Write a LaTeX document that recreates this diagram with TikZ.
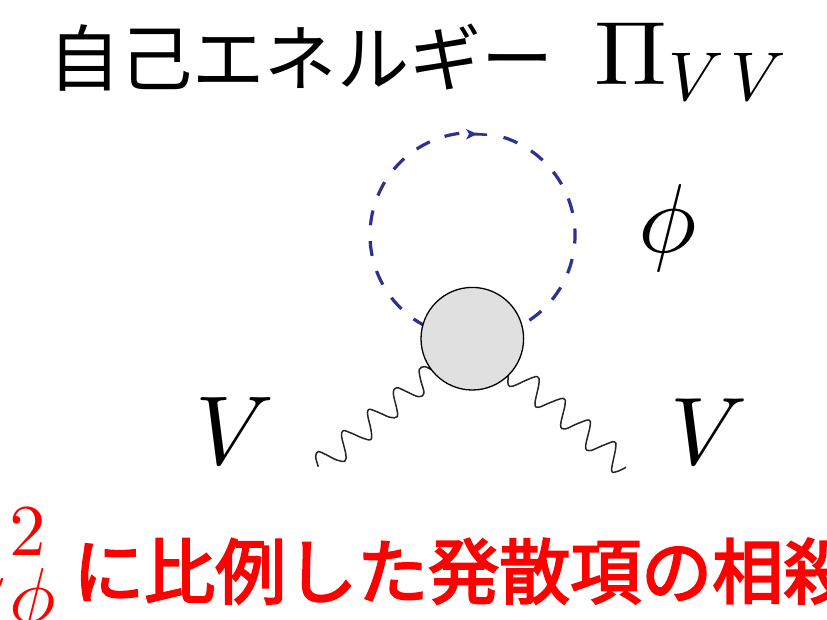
\documentclass[tikz,border=0pt]{standalone}
\usepackage{fontspec}
\usepackage{graphicx}
\setmainfont{Noto Sans CJK JP}
\newfontfamily\redfont[FakeBold=3]{Noto Sans CJK JP}
\usetikzlibrary{calc}
\definecolor{loopblue}{RGB}{46,49,146}
\newcommand{\scaledmath}[2]{\scalebox{#1}{$#2$}}
\tikzset{
  title/.style={inner sep=0pt,anchor=base west,font=\fontsize{72.2}{72}\selectfont},
  mathlabel/.style={inner sep=0pt,anchor=base west},
  redmath/.style={inner sep=0pt,anchor=base,text=red},
  redtext/.style={inner sep=0pt,anchor=base west,text=red,font=\fontsize{71}{71}\selectfont\redfont},
  wave/.style={draw=black!85,line width=1.5pt,line join=round},
  loop/.style={draw=loopblue,line width=3.2pt,dash pattern=on 15pt off 15.75pt},
  blob/.style={circle,draw=black,line width=1.3pt,fill=black!12,minimum size=102.6pt,inner sep=0pt}
}
\begin{document}
\begin{tikzpicture}[x=1pt,y=-1pt]
\useasboundingbox (0,0) rectangle (827,619);
\clip (0,0) rectangle (827,619);
\fill[white] (0,0) rectangle (827,619);
\node[title] (titleA) at (48,85) {自己エネルギー};
\node[mathlabel] (pi) at (594,84) {\scalebox{9.7}[9]{$\Pi$}};
\node[mathlabel] (vv) at (668,100) {\scaledmath{6.9}{V\hspace{1pt}V}};
\coordinate (loopc) at (472.5,235);
\draw[loop] ($(loopc)+(31,-97.7)$) arc[start angle=-72.4,end angle=270,radius=102.5];
\fill[loopblue] (466,129) -- (474,132.5) -- (487,133.5) -- (487,135.9) -- (474,135.5) -- (466,139.5) -- (469,134) -- cycle;
\node[mathlabel] (phi) at (638,252) {\scaledmath{9.8}{\phi}};
\node[mathlabel] (vl) at (195,464) {\scaledmath{9.8}{V}};
\node[mathlabel] (vr) at (670,464) {\scaledmath{9.6}{V}};
\begin{scope}[shift={(300,280)},x=0.3333pt,y=-0.3333pt]
\coordinate (wl1) at (395,270);
\coordinate (wl2) at (55,560);
\coordinate (wr1) at (625,285);
\coordinate (wr2) at (978,562);
\draw[wave] plot[smooth,tension=0.6] coordinates {(wl1) (375,260) (358,268) (362,300) (372,340) (355,350) (320,335) (290,323) (280,340) (290,385) (292,410) (270,412) (235,397) (207,388) (203,405) (213,450) (213,478) (190,475) (155,460) (130,452) (125,470) (137,520) (135,543) (110,540) (80,525) (55,515) (47,530) (wl2)};
\draw[wave] plot[smooth,tension=0.6] coordinates {(wr1) (625,315) (640,318) (680,300) (712,290) (717,310) (705,370) (715,382) (750,368) (790,355) (795,375) (782,435) (795,447) (830,432) (867,420) (870,440) (857,500) (870,512) (905,498) (943,485) (947,505) (935,570) (950,575) (wr2)};
\end{scope}
\node[blob] (blobn) at (472.3,338.7) {};
\node[redmath] (two) at (28,555) {\scaledmath{7.3}{2}};
\node[redmath] (ph) at (33,622) {\scaledmath{7.8}{\phi}};
\node[redmath] (m) at (-36,593) {\scaledmath{9.8}{m}};
\node[redtext] (red) at (73,598) {に比例した発散項の相殺};
\end{tikzpicture}
\end{document}
